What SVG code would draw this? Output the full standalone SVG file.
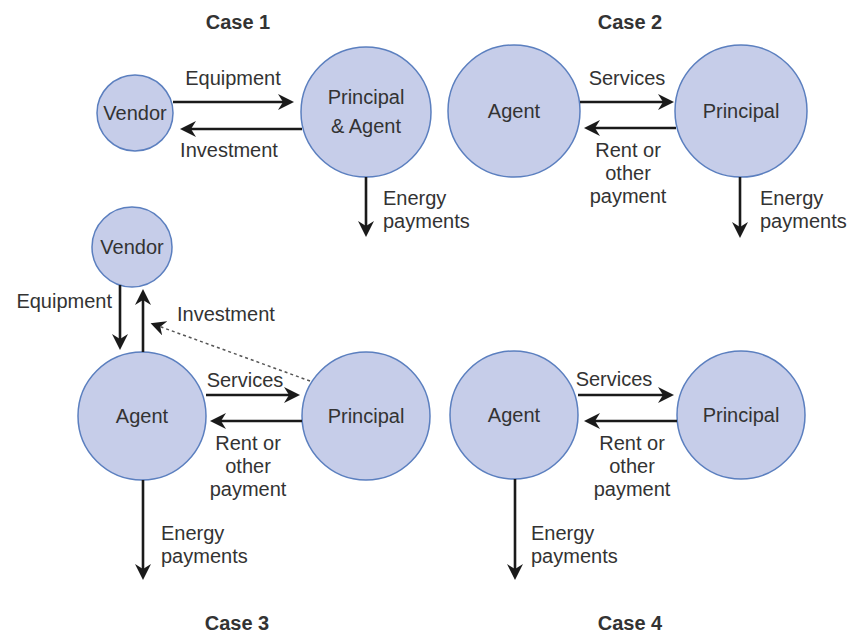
<svg xmlns="http://www.w3.org/2000/svg" width="849" height="637" viewBox="0 0 849 637">
<defs>
<marker id="ah" viewBox="0 0 16 16" refX="6" refY="8" markerWidth="16" markerHeight="16" markerUnits="userSpaceOnUse" orient="auto">
<path d="M0,0 L16,8 L0,16 L5,8 z" fill="#1a1a1a"/>
</marker>
<marker id="ahs" viewBox="0 0 16 16" refX="6" refY="8" markerWidth="15" markerHeight="15" markerUnits="userSpaceOnUse" orient="auto">
<path d="M0,0 L16,8 L0,16 L5,8 z" fill="#1a1a1a"/>
</marker>
</defs>
<style>
.n{fill:#c6cde9;stroke:#5b7fbf;stroke-width:1.5}
text{font-family:"Liberation Sans",Arial,sans-serif;font-size:20px;fill:#333}
.t{font-weight:bold;text-anchor:middle}
.c{text-anchor:middle}
.e{text-anchor:end}
.a{stroke:#1a1a1a;stroke-width:2.6;fill:none;marker-end:url(#ah)}
.d{stroke:#555;stroke-width:1.5;stroke-dasharray:3,3;fill:none;marker-end:url(#ahs)}
</style>
<rect width="849" height="637" fill="#fff"/>
<g id="titles">
<text class="t" x="238" y="29">Case 1</text>
<text class="t" x="630" y="29">Case 2</text>
<text class="t" x="237" y="630">Case 3</text>
<text class="t" x="630" y="630">Case 4</text>
</g>
<g id="c1-vendor"><circle class="n" cx="135" cy="113" r="38"/><text class="c" x="135" y="120">Vendor</text></g>
<g id="c1-pa"><circle class="n" cx="366" cy="112" r="65"/><text class="c" x="366" y="104">Principal</text><text class="c" x="366" y="133">&amp; Agent</text></g>
<g id="c2-agent"><circle class="n" cx="514" cy="111" r="66"/><text class="c" x="514" y="118">Agent</text></g>
<g id="c2-principal"><circle class="n" cx="741" cy="111" r="66"/><text class="c" x="741" y="118">Principal</text></g>
<g id="c3-vendor"><circle class="n" cx="132" cy="247" r="40"/><text class="c" x="132" y="254">Vendor</text></g>
<g id="c3-agent"><circle class="n" cx="142" cy="416" r="64"/><text class="c" x="142" y="423">Agent</text></g>
<g id="c3-principal"><circle class="n" cx="366" cy="416" r="64"/><text class="c" x="366" y="423">Principal</text></g>
<g id="c4-agent"><circle class="n" cx="514" cy="415" r="64"/><text class="c" x="514" y="422">Agent</text></g>
<g id="c4-principal"><circle class="n" cx="741" cy="415" r="64"/><text class="c" x="741" y="422">Principal</text></g>
<g id="connectors">
<line class="a" x1="173" y1="102" x2="284" y2="102"/>
<line class="a" x1="302" y1="129" x2="190" y2="129"/>
<line class="a" x1="366" y1="177" x2="366" y2="227"/>
<line class="a" x1="580" y1="102" x2="664" y2="102"/>
<line class="a" x1="676" y1="128" x2="594" y2="128"/>
<line class="a" x1="740" y1="177" x2="740" y2="228"/>
<line class="a" x1="120" y1="285" x2="120" y2="340"/>
<line class="a" x1="143" y1="352" x2="143" y2="299"/>
<line class="d" x1="310" y1="381" x2="159.4" y2="326.4"/>
<line class="a" x1="206" y1="395" x2="290" y2="395"/>
<line class="a" x1="302" y1="421" x2="220" y2="421"/>
<line class="a" x1="143" y1="480" x2="143" y2="570"/>
<line class="a" x1="578" y1="395" x2="664" y2="395"/>
<line class="a" x1="677" y1="421" x2="594" y2="421"/>
<line class="a" x1="515" y1="479" x2="515" y2="570"/>
</g>
<g id="labels">
<text class="c" x="233" y="85">Equipment</text>
<text class="c" x="229" y="157">Investment</text>
<text x="383" y="205">Energy</text>
<text x="383" y="228">payments</text>
<text class="c" x="627" y="85">Services</text>
<text class="c" x="628" y="157">Rent or</text>
<text class="c" x="628" y="180">other</text>
<text class="c" x="628" y="203">payment</text>
<text x="760" y="205">Energy</text>
<text x="760" y="228">payments</text>
<text class="e" x="112" y="308">Equipment</text>
<text x="177" y="321">Investment</text>
<text class="c" x="245" y="387">Services</text>
<text class="c" x="248" y="450">Rent or</text>
<text class="c" x="248" y="473">other</text>
<text class="c" x="248" y="496">payment</text>
<text x="161" y="540">Energy</text>
<text x="161" y="563">payments</text>
<text class="c" x="614" y="386">Services</text>
<text class="c" x="632" y="450">Rent or</text>
<text class="c" x="632" y="473">other</text>
<text class="c" x="632" y="496">payment</text>
<text x="531" y="540">Energy</text>
<text x="531" y="563">payments</text>
</g>
</svg>
